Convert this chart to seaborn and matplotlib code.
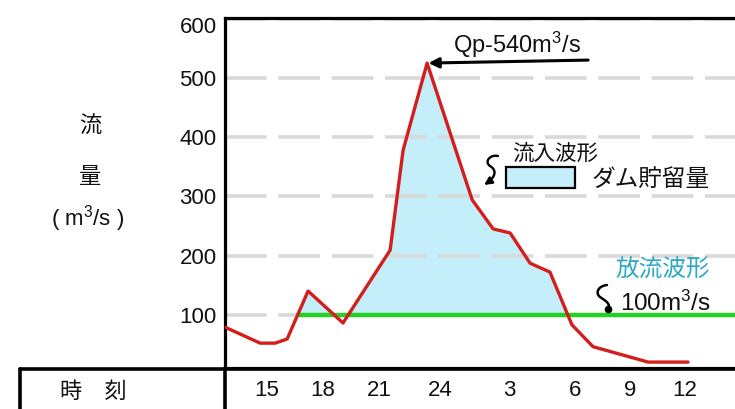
import numpy as np
import pandas as pd
import matplotlib
matplotlib.use("Agg")
import matplotlib.pyplot as plt
import seaborn as sns
from matplotlib.path import Path
from matplotlib.patches import FancyArrowPatch, Rectangle
from matplotlib.lines import Line2D
from matplotlib.transforms import ScaledTranslation

# ---------------- data ----------------
hours = [-1.87, -0.14, 0.60, 1.19, 2.22, 3.94, 6.26, 6.90, 8.08, 10.30,
         11.33, 12.17, 13.15, 14.13, 15.21, 16.25, 18.96, 20.93]
inflow = [79, 52, 52, 59, 140, 86, 209, 378, 525, 294,
          245, 238, 187, 172, 83, 46, 20, 20]
outflow_level = 100
x_tick_pos = [0.20, 2.96, 5.71, 8.72, 12.15, 15.37, 18.07, 20.78]
x_tick_labels = ["15", "18", "21", "24", "3", "6", "9", "12"]
y_ticks = [100, 200, 300, 400, 500, 600]
x_range = (-1.87, 23.24)
y_range = (10, 602)

RED = "#d41e1e"
GREEN = "#25d025"
FILL = "#c4eefa"
TEAL = "#2aa8c8"
GRID = "#d9d9d9"
INK = "#111111"

sns.set_theme(style="white")
plt.rcParams["font.family"] = ["Liberation Sans", "Noto Sans CJK JP", "DejaVu Sans"]
plt.rcParams["lines.scale_dashes"] = False
plt.rcParams["mathtext.fontset"] = "custom"
plt.rcParams["mathtext.rm"] = "Liberation Sans"
plt.rcParams["mathtext.it"] = "Liberation Sans"
plt.rcParams["mathtext.default"] = "rm"

W, H = 735, 409
fig = plt.figure(figsize=(W / 100, H / 100), dpi=100)
fig.patch.set_facecolor("white")

top_px, bot_px, left_px = 17.5, 368, 225
ax = fig.add_axes([left_px / W, 1 - bot_px / H, (W - left_px) / W, (bot_px - top_px) / H])
ax.set_facecolor("white")

df = pd.DataFrame({"hour": hours, "inflow": inflow})
x = np.array(hours, dtype=float)
y = np.array(inflow, dtype=float)

# storage fill (inflow above outflow)
ax.fill_between(x, y, outflow_level, where=y > outflow_level, interpolate=True,
                color=FILL, lw=0, zorder=0.3)

# outflow line starts where inflow first exceeds level
i = int(np.argmax(y > outflow_level))
x_start = x[i - 1] + (outflow_level - y[i - 1]) / (y[i] - y[i - 1]) * (x[i] - x[i - 1])
sns.lineplot(x=[x_start, x_range[1] + 1], y=[outflow_level, outflow_level],
             color=GREEN, lw=3.2, ax=ax, zorder=3)
sns.lineplot(data=df, x="hour", y="inflow", color=RED, lw=2.4, ax=ax, zorder=4)

ax.set_xlim(*x_range)
ax.set_ylim(*y_range)
ax.set_xlabel("")
ax.set_ylabel("")
ax.set_yticks(y_ticks)
ax.set_yticklabels([str(v) for v in y_ticks])
ax.set_xticks(x_tick_pos)
ax.set_xticklabels(x_tick_labels)
ax.tick_params(axis="both", length=0, labelsize=16, colors=INK)
ax.tick_params(axis="y", pad=6)
ax.tick_params(axis="x", pad=9)
ax.set_axisbelow(True)
ax.yaxis.grid(True, color=GRID, lw=2.6, linestyle=(0, (30, 8.4)))
ax.xaxis.grid(False)
for s in ["left", "top", "bottom"]:
    ax.spines[s].set_color("black")
    ax.spines[s].set_linewidth(2.3)
ax.spines["right"].set_visible(False)

# nudge top label down like the reference
lab = ax.get_yticklabels()[-1]
lab.set_transform(lab.get_transform() + ScaledTranslation(0, -6 / 100, fig.dpi_scale_trans))


def fx(px):
    return px / W


def fy(py):
    return 1 - py / H


# table lines under the axis
fig.add_artist(Line2D([fx(20), fx(W)], [fy(369), fy(369)], color="black", lw=2.6))
fig.add_artist(Line2D([fx(20), fx(20)], [fy(369), fy(H + 5)], color="black", lw=2.6))
fig.add_artist(Line2D([fx(225), fx(225)], [fy(368), fy(H + 5)], color="black", lw=2.6))

# left texts
fig.text(fx(90), fy(127), "流", ha="center", va="center", fontsize=16, color=INK)
fig.text(fx(90), fy(177), "量", ha="center", va="center", fontsize=16, color=INK)
fig.text(fx(88), fy(225), "( m$^{3}$/s )", ha="center", va="baseline", fontsize=16, color=INK)
fig.text(fx(93), fy(392), "時　刻", ha="center", va="center", fontsize=16, color=INK)

# peak annotation
k = int(np.argmax(y))
ax.annotate("", xy=(x[k], y[k]), xytext=(161, 3), textcoords="offset pixels",
            arrowprops=dict(arrowstyle="-|>,head_length=0.5,head_width=0.25",
                            color="black", lw=2.2, shrinkA=0, shrinkB=1))
fig.text(fx(453), fy(53), "Qp-540m$^{3}$/s", ha="left", va="baseline", fontsize=17, color=INK)

# legend texts
fig.text(fx(555), fy(154), "流入波形", ha="center", va="center", fontsize=15.5, color=INK)
fig.text(fx(651), fy(180), "ダム貯留量", ha="center", va="center", fontsize=17, color=INK)
fig.add_artist(Rectangle((fx(506), fy(188)), fx(575) - fx(506), fy(167) - fy(188),
                         transform=fig.transFigure, facecolor=FILL, edgecolor="black", lw=1.6))
fig.text(fx(663), fy(271), "放流波形", ha="center", va="center", fontsize=17, color=TEAL)
fig.text(fx(620), fy(311), "100m$^{3}$/s", ha="left", va="baseline", fontsize=17.5, color=INK)


def pxpath(pts, codes):
    return Path([(fx(a), fy(b)) for a, b in pts], codes)


C4 = Path.CURVE4
p1 = pxpath([(498, 156), (490, 154), (484, 162), (490, 166), (497, 170), (496, 177), (484, 185)],
            [Path.MOVETO, C4, C4, C4, C4, C4, C4])
fig.add_artist(FancyArrowPatch(path=p1, transform=fig.transFigure,
                               arrowstyle="-|>,head_length=0.45,head_width=0.22",
                               color="black", lw=1.7, mutation_scale=10))
p2 = pxpath([(607, 285), (598, 286), (595, 293), (600, 297), (606, 301), (611, 304), (608, 309)],
            [Path.MOVETO, C4, C4, C4, C4, C4, C4])
fig.add_artist(FancyArrowPatch(path=p2, transform=fig.transFigure, arrowstyle="-",
                               color="black", lw=1.8))
fig.add_artist(Line2D([fx(608)], [fy(309)], marker="o", markersize=4.5, color="black"))

fig.savefig("out.png", dpi=100, facecolor="white")
